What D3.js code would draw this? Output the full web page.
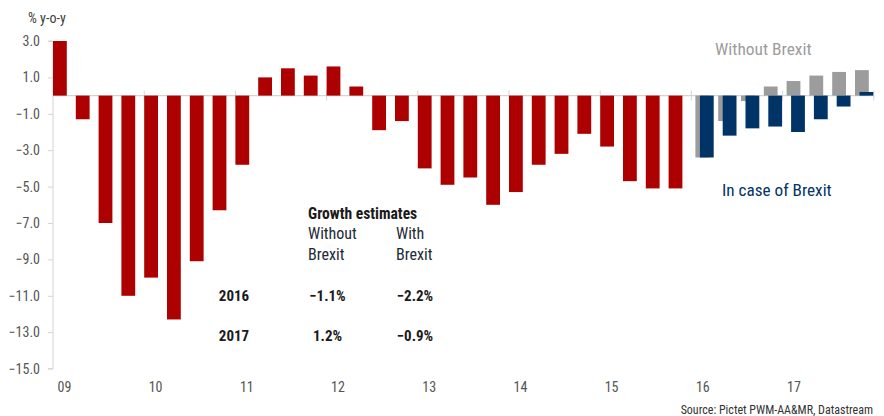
<!DOCTYPE html>
<html>
<head>
<meta charset="utf-8">
<script src="https://cdn.jsdelivr.net/npm/d3@7"></script>
<style>
  html, body { margin: 0; padding: 0; background: #fff; }
  svg { display: block; }
  text { font-family: "Liberation Sans Narrow", "Arial Narrow", "Roboto Condensed", sans-serif; }
</style>
</head>
<body>
<svg id="chart" width="884" height="416"></svg>
<script>
// Year labels on the x axis (quarterly data, 2009 Q1 - 2017 Q4)
const years = ["09", "10", "11", "12", "13", "14", "15", "16", "17"];
const quarters = years.flatMap(yr => ["Q1", "Q2", "Q3", "Q4"].map(q => yr + q));

// Actual y-o-y growth, 2009 Q1 - 2015 Q4 (%)
const actual = [3.0, -1.3, -7.0, -11.0,
                -10.0, -12.3, -9.1, -6.3,
                -3.8, 1.0, 1.5, 1.1,
                1.6, 0.5, -1.9, -1.4,
                -4.0, -4.9, -4.5, -6.0,
                -5.3, -3.8, -3.2, -2.1,
                -2.8, -4.7, -5.1, -5.1];

// Projections, 2016 Q1 - 2017 Q4 (%)
const withoutBrexit = [-3.4, -1.4, -0.3, 0.5, 0.8, 1.1, 1.3, 1.4];
const withBrexit    = [-3.4, -2.2, -1.8, -1.7, -2.0, -1.3, -0.6, 0.2];

// Y axis ticks
const yTicks = [-15, -13, -11, -9, -7, -5, -3, -1, 1, 3];

// Growth estimates table
const estYears = ["2016", "2017"];
const estWithout = [-1.1, 1.2];
const estWith = [-2.2, -0.9];

const svg = d3.select("#chart");

const x = d3.scaleBand().domain(quarters).range([53, 873.8]).padding(0);
const y = d3.scaleLinear().domain([-15, 3]).range([368.6, 41]);

const RED = "#ad0000", GREY = "#9c9c9c", NAVY = "#003366", AXIS = "#d4d4d4";
const barW = 13.8;

// y axis
const yAxis = svg.append("g")
  .attr("transform", "translate(53,0)")
  .call(d3.axisLeft(y).tickValues(yTicks).tickFormat(d3.format(".1f")).tickSize(5).tickPadding(8));
yAxis.select(".domain").attr("stroke", AXIS).attr("d", `M-5,${y(-15)}H0V${y(3)}H-5`);
yAxis.selectAll(".tick line").attr("stroke", AXIS);
yAxis.selectAll(".tick text")
  .attr("fill", "#555")
  .style("font-size", "14px");

// zero line with year separators
svg.append("line")
  .attr("x1", 53).attr("x2", x.range()[1])
  .attr("y1", y(0)).attr("y2", y(0))
  .attr("stroke", AXIS).attr("stroke-width", 1.2);

svg.append("g").selectAll("line")
  .data(years.slice(1).concat(["end"]))
  .join("line")
  .attr("x1", (d, i) => x(quarters[0]) + (i + 1) * 4 * x.bandwidth())
  .attr("x2", (d, i) => x(quarters[0]) + (i + 1) * 4 * x.bandwidth())
  .attr("y1", y(0) - 5).attr("y2", y(0) + 5)
  .attr("stroke", AXIS);

// year labels
svg.append("g").selectAll("text")
  .data(years)
  .join("text")
  .attr("x", d => x(d + "Q1") + x.bandwidth() / 2)
  .attr("y", 391.5)
  .attr("text-anchor", "middle")
  .attr("fill", "#555")
  .style("font-size", "14px")
  .text(d => d);

const barY = v => y(Math.max(0, v));
const barH = v => Math.abs(y(v) - y(0));

// actual bars
svg.append("g").selectAll("rect")
  .data(actual)
  .join("rect")
  .attr("x", (d, i) => x(quarters[i]))
  .attr("y", barY)
  .attr("width", barW)
  .attr("height", barH)
  .attr("fill", RED);

const projStart = actual.length;

// projection without Brexit (behind)
svg.append("g").selectAll("rect")
  .data(withoutBrexit)
  .join("rect")
  .attr("x", (d, i) => x(quarters[projStart + i]) + 4)
  .attr("y", barY)
  .attr("width", barW)
  .attr("height", barH)
  .attr("fill", GREY);

// projection in case of Brexit (front)
svg.append("g").selectAll("rect")
  .data(withBrexit)
  .join("rect")
  .attr("x", (d, i) => x(quarters[projStart + i]) + 8.5)
  .attr("y", barY)
  .attr("width", barW)
  .attr("height", barH)
  .attr("fill", NAVY);

// series labels
svg.append("text")
  .attr("x", 715).attr("y", 55)
  .attr("fill", GREY)
  .style("font-size", "17.4px")
  .text("Without Brexit");

svg.append("text")
  .attr("x", 722).attr("y", 196)
  .attr("fill", NAVY)
  .style("font-size", "17.2px")
  .text("In case of Brexit");

// unit label
svg.append("text")
  .attr("x", 28).attr("y", 23)
  .attr("fill", "#404040")
  .style("font-size", "14px")
  .text("% y-o-y");

// growth estimates table
const tbl = svg.append("g").attr("fill", "#1a1a1a");
tbl.append("text").attr("x", 308).attr("y", 219)
  .style("font-size", "15.6px").style("font-weight", "bold")
  .text("Growth estimates");
[["Without", 308, 239], ["With", 396, 239], ["Brexit", 308, 260], ["Brexit", 396, 260]]
  .forEach(([t, tx, ty]) => {
    tbl.append("text").attr("x", tx).attr("y", ty)
      .attr("fill", "#222a36")
      .style("font-size", "16px").text(t);
  });

const pct = v => d3.format(".1f")(v) + "%";
const rowY = [301, 341];
estYears.forEach((yr, i) => {
  tbl.append("text").attr("x", 234).attr("y", rowY[i])
    .attr("text-anchor", "middle")
    .style("font-size", "15px").style("font-weight", "bold").text(yr);
  tbl.append("text").attr("x", 327.5).attr("y", rowY[i])
    .attr("text-anchor", "middle")
    .style("font-size", "15px").style("font-weight", "bold").text(pct(estWithout[i]));
  tbl.append("text").attr("x", 415).attr("y", rowY[i])
    .attr("text-anchor", "middle")
    .style("font-size", "15px").style("font-weight", "bold").text(pct(estWith[i]));
});

// source note
svg.append("text")
  .attr("x", 873).attr("y", 414)
  .attr("text-anchor", "end")
  .attr("fill", "#333")
  .style("font-size", "12px")
  .text("Source: Pictet PWM-AA&MR, Datastream");
</script>
</body>
</html>
